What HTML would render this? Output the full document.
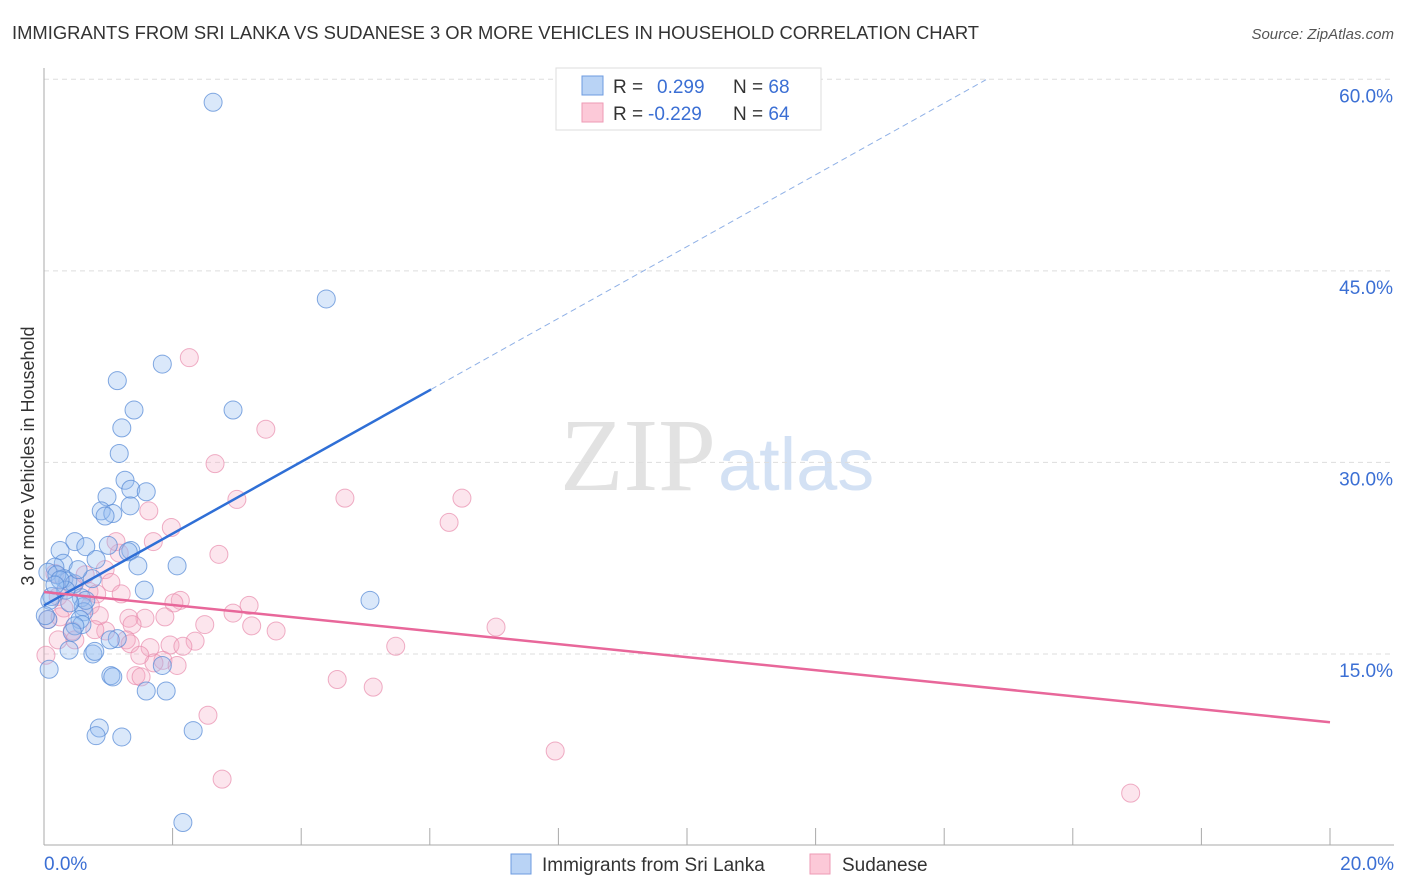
<!DOCTYPE html>
<html><head><meta charset="utf-8"><style>
body{margin:0;background:#fff;font-family:"Liberation Sans",sans-serif}
svg{display:block}
</style></head><body>
<svg id="c" width="1406" height="892">
<text x="12" y="39" font-size="18.4" fill="#333">IMMIGRANTS FROM SRI LANKA VS SUDANESE 3 OR MORE VEHICLES IN HOUSEHOLD CORRELATION CHART</text>
<text x="1394" y="39" font-size="15" fill="#555" font-style="italic" text-anchor="end">Source: ZipAtlas.com</text>
<text transform="translate(34,456) rotate(-90)" font-size="18" fill="#333" text-anchor="middle">3 or more Vehicles in Household</text>
<text x="716" y="490" font-size="104" fill="#e2e2e2" text-anchor="end" font-family="Liberation Serif">ZIP</text>
<text x="718" y="490" font-size="74" fill="#d3e1f4">atlas</text>
<g id="grid"></g><g id="pts"></g><g id="lines"></g>
<g>
<rect x="556" y="68" width="265" height="62" fill="#fff" stroke="#ddd"/>
<rect x="582" y="76" width="21" height="19" fill="#b9d3f5" stroke="#6d9be0"/>
<rect x="582" y="103" width="21" height="19" fill="#fcc9d8" stroke="#ee9ab5"/>
<text x="613" y="93" font-size="19" fill="#333">R = <tspan fill="#3b6fd4" x="657">0.299</tspan><tspan x="733" fill="#333">N = </tspan><tspan fill="#3b6fd4">68</tspan></text>
<text x="613" y="120" font-size="19" fill="#333">R = <tspan fill="#3b6fd4" x="648">-0.229</tspan><tspan x="733" fill="#333">N = </tspan><tspan fill="#3b6fd4">64</tspan></text>
</g>
<g>
<rect x="511" y="854" width="20" height="20" fill="#b9d3f5" stroke="#6d9be0"/>
<text x="542" y="871" font-size="19" fill="#333">Immigrants from Sri Lanka</text>
<rect x="810" y="854" width="20" height="20" fill="#fcc9d8" stroke="#ee9ab5"/>
<text x="842" y="871" font-size="19" fill="#333">Sudanese</text>
</g>
</svg>
<script>
const yTicks=[15,30,45,60];
const yTickLabels=["15.0%","30.0%","45.0%","60.0%"];
const xTickLabels=["0.0%","20.0%"];
const blueX=[2.63,4.39,1.84,1.14,1.40,2.94,1.21,1.17,1.26,1.35,1.59,0.98,0.89,1.07,1.34,0.95,0.48,0.25,0.65,1.00,1.35,1.31,0.30,0.81,1.46,0.17,2.07,0.06,0.31,0.37,0.75,0.20,0.47,1.56,0.12,5.07,0.58,0.61,0.62,0.56,0.59,0.48,0.44,1.14,0.39,0.76,1.04,1.07,0.08,1.84,1.59,1.90,0.86,0.81,1.21,2.32,2.16,0.09,0.06,0.34,0.65,0.40,1.03,0.79,0.25,0.02,0.17,0.53];
const blueY=[58.2,42.8,37.7,36.4,34.1,34.1,32.7,30.7,28.6,27.9,27.7,27.3,26.2,26.0,26.6,25.8,23.8,23.1,23.4,23.5,23.1,23.0,22.1,22.4,21.9,21.8,21.9,21.4,20.9,20.7,20.9,21.2,20.5,20.0,19.5,19.2,19.4,18.7,18.3,17.7,17.3,17.2,16.7,16.2,15.3,15.0,13.3,13.2,13.8,14.1,12.1,12.1,9.2,8.6,8.5,9.0,1.8,19.2,17.7,20.0,19.2,19.0,16.1,15.2,20.8,18.0,20.4,21.6];
const pinkX=[2.26,3.45,2.66,4.68,6.50,3.00,6.30,1.63,1.98,1.70,1.17,1.12,2.72,0.17,0.95,1.04,0.45,0.70,1.20,0.82,0.22,2.12,2.02,3.19,0.72,0.31,1.88,1.57,1.32,2.94,1.37,2.50,3.23,7.03,3.61,0.96,0.44,0.22,2.35,1.28,1.96,5.47,2.16,1.65,1.34,1.85,1.71,2.07,1.43,1.51,4.56,5.12,2.55,7.95,2.77,16.9,0.06,0.03,0.48,0.86,0.79,1.49,0.25,0.64];
const pinkY=[38.2,32.6,29.9,27.2,27.2,27.1,25.3,26.2,24.9,23.8,22.9,23.8,22.8,21.3,21.6,20.6,20.4,19.9,19.7,19.7,19.5,19.2,19.0,18.8,18.8,18.6,17.9,17.8,17.8,18.2,17.3,17.3,17.2,17.1,16.8,16.8,16.8,16.1,16.0,16.1,15.7,15.6,15.6,15.5,15.8,14.5,14.3,14.1,13.3,13.2,13.0,12.4,10.2,7.4,5.2,4.1,17.7,14.9,16.1,18.0,16.9,14.9,17.9,21.2];
const blueTrend=[18.8,2.81];   // intercept, slope
const pinkTrend=[19.85,-0.51];
const NS="http://www.w3.org/2000/svg";
const X=v=>44+v*64.3, Y=v=>845.5-v*12.77;
function mk(t,a,p){const e=document.createElementNS(NS,t);for(const k in a)e.setAttribute(k,a[k]);p.appendChild(e);return e;}
const grid=document.getElementById('grid');
yTicks.forEach((t,i)=>{
 const l=mk('line',{x1:44,x2:1394,y1:Y(t),y2:Y(t),stroke:'#ddd','stroke-dasharray':'5,4'},grid);
 
 
 const tx=mk('text',{x:1393,y:Y(t)+23,'font-size':19,fill:'#3b6fd4','text-anchor':'end'},grid);
 tx.textContent=yTickLabels[i];
 
 
});
let ax=mk('line',{x1:44,x2:44,y1:68,y2:845,stroke:'#aaa'},grid);


ax=mk('line',{x1:44,x2:1394,y1:845,y2:845,stroke:'#aaa'},grid);


for(let i=0;i<=10;i++){const t=mk('line',{x1:X(i*2),x2:X(i*2),y1:828,y2:845,stroke:'#aaa'},grid);
 
 }
[[0,'start',44],[20,'end',1394]].forEach((d,i)=>{const t=mk('text',{x:d[2],y:870,'font-size':19,fill:'#3b6fd4','text-anchor':d[1]},grid);t.textContent=xTickLabels[i];
 
 });
const pts=document.getElementById('pts');
pinkX.forEach((x,i)=>{const c=mk('circle',{cx:X(x),cy:Y(pinkY[i]),r:9,fill:'rgba(246,170,195,0.3)',stroke:'rgba(232,140,172,0.7)','stroke-width':1},pts);
 
 });
blueX.forEach((x,i)=>{const c=mk('circle',{cx:X(x),cy:Y(blueY[i]),r:9,fill:'rgba(150,190,240,0.35)',stroke:'rgba(90,140,215,0.75)','stroke-width':1},pts);
 
 });
const ln=document.getElementById('lines');
let l=mk('line',{x1:X(0),y1:Y(blueTrend[0]),x2:X(6.02),y2:Y(blueTrend[0]+blueTrend[1]*6.02),stroke:'#2f6fd6','stroke-width':2.5},ln);


l=mk('line',{x1:X(6.02),y1:Y(blueTrend[0]+blueTrend[1]*6.02),x2:X(14.65),y2:Y(blueTrend[0]+blueTrend[1]*14.65),stroke:'#8fb0e6','stroke-width':1,'stroke-dasharray':'6,4'},ln);


l=mk('line',{x1:X(0),y1:Y(pinkTrend[0]),x2:X(20),y2:Y(pinkTrend[0]+pinkTrend[1]*20),stroke:'#e8679a','stroke-width':2.5},ln);


</script>
</body></html>
